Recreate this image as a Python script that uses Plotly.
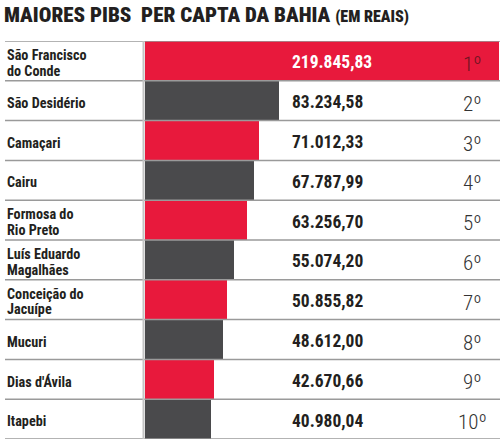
import plotly.graph_objects as go

cities = ["São Francisco\ndo Conde", "São Desidério", "Camaçari", "Cairu",
          "Formosa do\nRio Preto", "Luís Eduardo\nMagalhães", "Conceição do\nJacuípe",
          "Mucuri", "Dias d'Ávila", "Itapebi"]
values = [219845.83, 83234.58, 71012.33, 67787.99, 63256.70, 55074.20,
          50855.82, 48612.00, 42670.66, 40980.04]
value_labels = ["219.845,83", "83.234,58", "71.012,33", "67.787,99", "63.256,70",
                "55.074,20", "50.855,82", "48.612,00", "42.670,66", "40.980,04"]
ranks = ["1º", "2º", "3º", "4º", "5º", "6º", "7º", "8º", "9º", "10º"]

RED = "#e8193c"
GRAY = "#4a4a4c"
COND = "Roboto Condensed, Open Sans Condensed, sans-serif"

W, H = 500, 444
L, R, T, B = 145, 0, 41, 5
pw = W - L - R
n = len(cities)
idx = list(range(n))
colors = [RED if i % 2 == 0 else GRAY for i in idx]

fig = go.Figure(go.Bar(
    x=values, y=idx, orientation="h", marker=dict(color=colors, line=dict(width=0)),
    hoverinfo="skip",
))

def px2paper(px):
    return (px - L) / pw

ann = []
for i, name in enumerate(cities):
    lines = name.split("\n")
    k = len(lines)
    for j, ln in enumerate(lines):
        off = (j - (k - 1) / 2) * 15.5
        ann.append(dict(x=px2paper(5), xref="paper", y=i, yref="y", text=ln,
                        showarrow=False, xanchor="left", yanchor="middle",
                        yshift=-off - 2,
                        font=dict(family=COND, size=14.2, color="#231f20", weight="bold")))
    ann.append(dict(x=px2paper(290), xref="paper", y=i, yref="y", text=value_labels[i],
                    showarrow=False, xanchor="left", yanchor="middle", yshift=-1.5,
                    font=dict(family=COND, size=17.5, weight="bold",
                              color="#ffffff" if i == 0 else "#231f20")))
    ann.append(dict(x=px2paper(472), xref="paper", y=i, yref="y", text=ranks[i],
                    showarrow=False, xanchor="center", yanchor="middle", yshift=-3,
                    font=dict(family=COND, size=21, weight=300,
                              color="#6e1422" if i == 0 else "#333333")))

ann.append(dict(x=px2paper(2), xref="paper", y=1 + (T - 14.5) / (H - T - B), yref="paper",
                text="MAIORES PIBS\u00a0\u00a0PER CAPTA DA BAHIA <span style='font-size:16px'>(EM REAIS)</span>",
                showarrow=False, xanchor="left", yanchor="middle",
                font=dict(family=COND, size=21, weight=900, color="#231f20")))

shapes = []
for b in range(n + 1):
    shapes.append(dict(type="line", xref="paper", yref="y", x0=px2paper(5), x1=1.0,
                       y0=b - 0.5, y1=b - 0.5, layer="above",
                       line=dict(color="#9a9a9a", width=1.5)))
shapes.append(dict(type="line", xref="paper", yref="y", x0=px2paper(143.5), x1=px2paper(143.5),
                   y0=-0.5, y1=n - 0.5, layer="above",
                   line=dict(color="#c4c4c4", width=2)))

fig.update_layout(
    width=W, height=H, margin=dict(l=L, r=R, t=T, b=B),
    paper_bgcolor="white", plot_bgcolor="white",
    bargap=0.0, showlegend=False,
    xaxis=dict(range=[0, 220500], visible=False, fixedrange=True),
    yaxis=dict(range=[n - 0.5, -0.5], visible=False, fixedrange=True),
    annotations=ann, shapes=shapes,
)

fig.write_html("out.html", config={"displayModeBar": False},
               post_script="document.body.style.margin='0';")
